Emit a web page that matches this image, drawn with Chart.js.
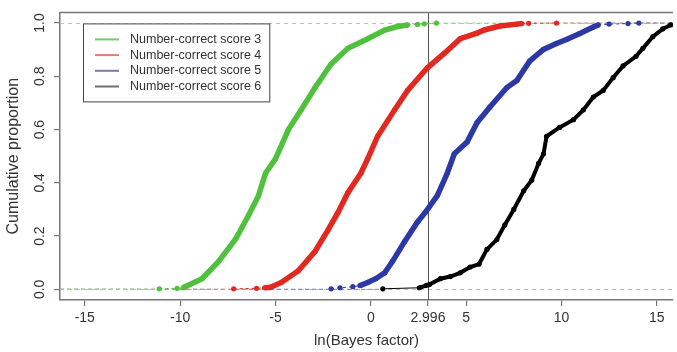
<!DOCTYPE html>
<html>
<head>
<meta charset="utf-8">
<script src="https://cdn.jsdelivr.net/npm/chart.js@4.4.1/dist/chart.umd.min.js"></script>
<style>
  html, body { margin: 0; padding: 0; background: #fff; }
  #caja { width: 677px; height: 352px; }
</style>
</head>
<body>
<div id="caja"><canvas id="grafico"></canvas></div>
<script>
// datos leidos a ojo del grafico (ln Bayes factor vs proporcion acumulada)
const nombres = ['Number-correct score 3', 'Number-correct score 4', 'Number-correct score 5', 'Number-correct score 6'];

const score3X = [-11.09, -10.16, -9.84, -9.79, -8.85, -7.97, -7.08, -6.41, -5.89, -5.52, -5.0, -4.32, -3.65, -2.92, -2.08, -1.20, -0.16, 0.73, 1.41, 1.93, 2.45, 2.81, 3.44];
const score3Y = [0.002, 0.004, 0.006, 0.008, 0.04, 0.106, 0.19, 0.278, 0.352, 0.436, 0.49, 0.60, 0.674, 0.758, 0.846, 0.905, 0.941, 0.974, 0.987, 0.993, 0.995, 0.997, 1.0];

const score4X = [-7.19, -5.99, -5.57, -5.26, -4.69, -3.80, -2.92, -2.24, -1.72, -1.20, -0.52, -0.16, 0.36, 1.25, 1.93, 2.97, 3.85, 4.69, 5.57, 5.94, 6.77, 7.66, 7.92, 8.28, 9.74];
const score4Y = [0.002, 0.004, 0.006, 0.008, 0.026, 0.07, 0.143, 0.223, 0.289, 0.363, 0.436, 0.491, 0.575, 0.674, 0.747, 0.832, 0.886, 0.941, 0.962, 0.974, 0.989, 0.996, 0.998, 0.999, 1.0];

const score5X = [-2.08, -1.61, -0.94, -0.57, -0.16, 0.26, 0.73, 1.15, 1.77, 2.45, 2.86, 3.49, 4.01, 4.38, 5.05, 5.57, 6.25, 7.14, 7.66, 8.33, 9.06, 9.74, 10.26, 10.94, 11.67, 11.93, 12.5, 13.49, 14.06];
const score5Y = [0.002, 0.006, 0.010, 0.014, 0.026, 0.04, 0.062, 0.106, 0.179, 0.253, 0.289, 0.352, 0.436, 0.509, 0.553, 0.626, 0.685, 0.758, 0.784, 0.857, 0.901, 0.923, 0.938, 0.96, 0.985, 0.993, 0.996, 0.998, 1.0];

const score6X = [0.63, 2.55, 2.92, 3.07, 3.65, 4.17, 4.69, 5.21, 5.68, 6.09, 6.61, 7.03, 7.5, 8.02, 8.44, 8.80, 9.06, 9.22, 9.90, 10.63, 11.15, 11.67, 12.19, 12.71, 13.23, 13.91, 14.27, 14.79, 15.31, 15.73];
const score6Y = [0.002, 0.006, 0.015, 0.018, 0.04, 0.048, 0.062, 0.084, 0.095, 0.15, 0.187, 0.242, 0.30, 0.37, 0.41, 0.473, 0.509, 0.575, 0.608, 0.637, 0.674, 0.722, 0.747, 0.795, 0.839, 0.875, 0.905, 0.949, 0.978, 0.993];

const xTicks = [-15, -10, -5, 0, 2.996, 5, 10, 15];
const yTicks = [0, 0.2, 0.4, 0.6, 0.8, 1.0];
const lineaCorte = 2.996;

const xMin = -16.3, xMax = 15.85;
const yMin = -0.04, yMax = 1.04;

const colores = ['#4fc13d', '#e2291f', '#2b38a6', '#000000'];
const coloresLeyenda = ['#6fcf6f', '#e27a74', '#7a7aa6', '#6e6e6e'];
const coloresTenues = ['#8fd88f', '#eb8f8a', '#8b90c8', '#888888'];

const fuente = '"Liberation Sans", Arial, sans-serif';

function juntar(xs, ys) {
    return xs.map((x, i) => ({ x: x, y: ys[i] }));
}

const series = [
    juntar(score3X, score3Y),
    juntar(score4X, score4Y),
    juntar(score5X, score5Y),
    juntar(score6X, score6Y)
];

// tramo casi horizontal y separado = cola de la ecdf, se dibuja fino
function esCola(ctx) {
    const dx = ctx.p1.x - ctx.p0.x;
    const dy = Math.abs(ctx.p1.y - ctx.p0.y);
    return dx > 6 && dy < 1.2;
}

let datasets = series.map((datos, i) => ({
    label: nombres[i],
    data: datos,
    borderColor: colores[i],
    backgroundColor: colores[i],
    borderWidth: i === 3 ? 4 : 5.5,
    pointRadius: 2.6,
    pointBorderWidth: 0,
    pointBackgroundColor: colores[i],
    tension: 0,
    segment: {
        borderWidth: ctx => esCola(ctx) ? 1 : undefined,
        borderDash: ctx => (esCola(ctx) && i !== 3) ? [3, 3] : undefined
    }
}));

// extensiones en 0 (izquierda) y en 1 (derecha)
series.forEach((datos, i) => {
    datasets.push({
        label: 'cero' + i,
        data: [{ x: xMin, y: 0 }, { x: datos[0].x, y: 0 }],
        borderColor: coloresTenues[i],
        borderWidth: 1,
        borderDash: [4, 3],
        pointRadius: 0
    });
});
[2, 1, 0].forEach(i => {
    const ult = series[i][series[i].length - 1];
    datasets.push({
        label: 'uno' + i,
        data: [{ x: ult.x, y: 1 }, { x: xMax, y: 1 }],
        borderColor: coloresTenues[i],
        borderWidth: 1,
        borderDash: [4, 3],
        pointRadius: 0
    });
});

const extras = {
    id: 'extras',
    beforeDatasetsDraw(chart) {
        const ctx = chart.ctx;
        const a = chart.chartArea;
        const ys = chart.scales.y;
        const xs = chart.scales.x;
        ctx.save();
        // lineas grises punteadas en 0 y 1
        ctx.strokeStyle = '#bdbdbd';
        ctx.lineWidth = 1;
        ctx.setLineDash([4, 4]);
        [0, 1].forEach(v => {
            const py = Math.round(ys.getPixelForValue(v)) + 0.5;
            ctx.beginPath();
            ctx.moveTo(a.left, py);
            ctx.lineTo(a.right, py);
            ctx.stroke();
        });
        ctx.setLineDash([]);
        // linea vertical en 2.996
        const px = Math.round(xs.getPixelForValue(lineaCorte)) + 0.5;
        ctx.strokeStyle = '#555';
        ctx.beginPath();
        ctx.moveTo(px, a.top);
        ctx.lineTo(px, a.bottom);
        ctx.stroke();
        ctx.restore();
    },
    afterDraw(chart) {
        const ctx = chart.ctx;
        const a = chart.chartArea;
        ctx.save();
        // borde de arriba de la caja
        ctx.strokeStyle = '#777';
        ctx.lineWidth = 1.5;
        ctx.beginPath();
        ctx.moveTo(a.left, a.top);
        ctx.lineTo(a.right, a.top);
        ctx.stroke();

        // leyenda
        ctx.font = '12.5px ' + fuente;
        const anchoTexto = Math.max(...nombres.map(n => ctx.measureText(n).width));
        const x0 = a.left + 23, y0 = a.top + 11;
        const ancho = 47 + anchoTexto + 8;
        const alto = 78;
        ctx.fillStyle = '#fff';
        ctx.fillRect(x0, y0, ancho, alto);
        ctx.strokeStyle = '#444';
        ctx.lineWidth = 1;
        ctx.strokeRect(x0 + 0.5, y0 + 0.5, ancho, alto);
        nombres.forEach((n, i) => {
            const fy = y0 + 16 + i * 15.7;
            ctx.strokeStyle = coloresLeyenda[i];
            ctx.lineWidth = 2;
            ctx.beginPath();
            ctx.moveTo(x0 + 12, fy);
            ctx.lineTo(x0 + 36, fy);
            ctx.stroke();
            ctx.fillStyle = '#333';
            ctx.textBaseline = 'middle';
            ctx.textAlign = 'left';
            ctx.fillText(n, x0 + 47, fy);
        });
        ctx.restore();
    }
};

new Chart(document.getElementById('grafico'), {
    type: 'line',
    data: { datasets: datasets },
    options: {
        responsive: true,
        maintainAspectRatio: false,
        animation: false,
        layout: { padding: { top: 5, right: 0, left: 0, bottom: 0 } },
        plugins: { legend: { display: false }, tooltip: { enabled: false } },
        scales: {
            x: {
                type: 'linear',
                min: xMin,
                max: xMax,
                afterBuildTicks: s => { s.ticks = xTicks.map(v => ({ value: v })); },
                afterFit: s => { s.height = 52; },
                ticks: {
                    autoSkip: false,
                    maxRotation: 0,
                    padding: 4,
                    color: '#333',
                    font: { family: fuente, size: 14 },
                    callback: v => String(v)
                },
                grid: { drawOnChartArea: false, drawTicks: true, tickLength: 6, color: '#777', lineWidth: 1.2 },
                border: { display: true, color: '#777', width: 1.5 },
                title: { display: true, text: 'ln(Bayes factor)', color: '#333', font: { family: fuente, size: 15 }, padding: { top: 0, bottom: 2 } }
            },
            y: {
                type: 'linear',
                min: yMin,
                max: yMax,
                afterBuildTicks: s => { s.ticks = yTicks.map(v => ({ value: v })); },
                afterFit: s => { s.width = 60; },
                ticks: {
                    autoSkip: false,
                    minRotation: 90,
                    maxRotation: 90,
                    crossAlign: 'center',
                    padding: 4,
                    color: '#333',
                    font: { family: fuente, size: 14 },
                    callback: v => v.toFixed(1)
                },
                grid: { drawOnChartArea: false, drawTicks: true, tickLength: 6, color: '#777', lineWidth: 1.2 },
                border: { display: true, color: '#777', width: 1.5 },
                title: { display: true, text: 'Cumulative proportion', color: '#333', font: { family: fuente, size: 16 }, padding: { top: 4, bottom: 0 } }
            }
        }
    },
    plugins: [extras]
});
</script>
</body>
</html>
